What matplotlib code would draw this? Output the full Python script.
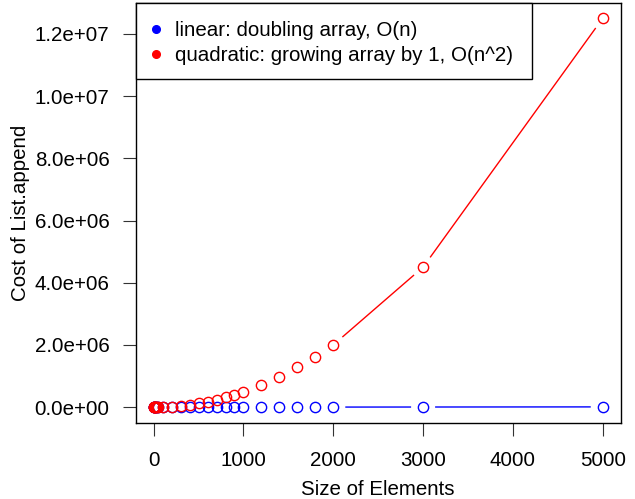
import matplotlib
matplotlib.use("Agg")
import matplotlib.pyplot as plt
from matplotlib.patches import Rectangle
import numpy as np

sizes = [1, 2, 5, 10, 20, 30, 40, 50, 100, 200, 300, 400, 500, 600, 700, 800,
         900, 1000, 1200, 1400, 1600, 1800, 2000, 3000, 5000]
linear_cost = [1, 3, 7, 15, 31, 62, 63, 63, 127, 255, 511, 511, 511, 1023, 1023,
               1023, 1023, 1023, 2047, 2047, 2047, 2047, 2047, 4095, 8191]
quadratic_cost = [1, 3, 15, 55, 210, 465, 820, 1275, 5050, 20100, 45150, 80200,
                  125250, 180300, 245350, 320400, 405450, 500500, 720600, 980700,
                  1280800, 1620900, 2001000, 4501500, 12502500]
yticks = [0, 2e6, 4e6, 6e6, 8e6, 1e7, 1.2e7]
xticks = [0, 1000, 2000, 3000, 4000, 5000]
labels = ["linear: doubling array, O(n)", "quadratic: growing array by 1, O(n^2)"]
colors = ['blue', 'red']

plt.rcParams['font.family'] = ['Liberation Sans', 'DejaVu Sans']
W, H = 635, 499
fig = plt.figure(figsize=(W / 100, H / 100), dpi=100)
L, R, T, B = 135.7, 620.7, 2.7, 422.7
ax = fig.add_axes([L / W, 1 - B / H, (R - L) / W, (B - T) / H])

ymax = max(quadratic_cost)
xm = max(sizes)
ax.set_xlim(0 - 0.04 * xm, xm * 1.04)
ax.set_ylim(0 - 0.04 * ymax, ymax * 1.04)

def type_b(x, y, color, gap=12.0):
    pts = ax.transData.transform(np.column_stack([x, y]))
    inv = ax.transData.inverted()
    for i in range(len(pts) - 1):
        p0, p1 = pts[i], pts[i + 1]
        d = p1 - p0
        dist = np.hypot(*d)
        if dist <= 2 * gap:
            continue
        u = d / dist
        a = inv.transform(p0 + u * gap)
        b = inv.transform(p1 - u * gap)
        ax.plot([a[0], b[0]], [a[1], b[1]], color=color, lw=1.0, solid_capstyle='butt')
    ax.plot(x, y, linestyle='none', marker='o', markersize=7.4, markerfacecolor='none',
            markeredgecolor=color, markeredgewidth=1.0)

type_b(sizes, linear_cost, colors[0])
type_b(sizes, quadratic_cost, colors[1])

FS = 14.8
ax.set_xticks(xticks)
ax.set_xticklabels([str(v) for v in xticks])
ax.set_yticks(yticks)
ax.set_yticklabels([f"{v:.1e}" for v in yticks])
ax.tick_params(direction='out', length=9.4, width=0.8, labelsize=FS, color='#333333')
ax.tick_params(axis='x', pad=11)
ax.tick_params(axis='y', pad=9.5)
for s in ax.spines.values():
    s.set_linewidth(1.0)
ax.set_xlabel("Size of Elements", fontsize=FS, labelpad=7)
ax.set_ylabel("Cost of List.append", fontsize=FS, labelpad=3)

# legend box drawn in pixel coordinates
def fx(px):
    return px / W
def fy(py):
    return 1 - py / H

fig.patches.append(Rectangle((fx(136), fy(79)), fx(532) - fx(136), fy(2.7) - fy(79),
                             transform=fig.transFigure, facecolor='white',
                             edgecolor='black', linewidth=1.0, zorder=5))
rows = [29.3, 54.0]
for lab, c, yc in zip(labels, colors, rows):
    fig.lines.append(plt.Line2D([fx(155.5)], [fy(yc)], transform=fig.transFigure,
                                linestyle='none', marker='o', markersize=5.5,
                                color=c, zorder=6))
    fig.text(fx(175), fy(yc + 6.8), lab, fontsize=FS, ha='left', va='baseline', zorder=6)

fig.savefig("out.png", dpi=100)
